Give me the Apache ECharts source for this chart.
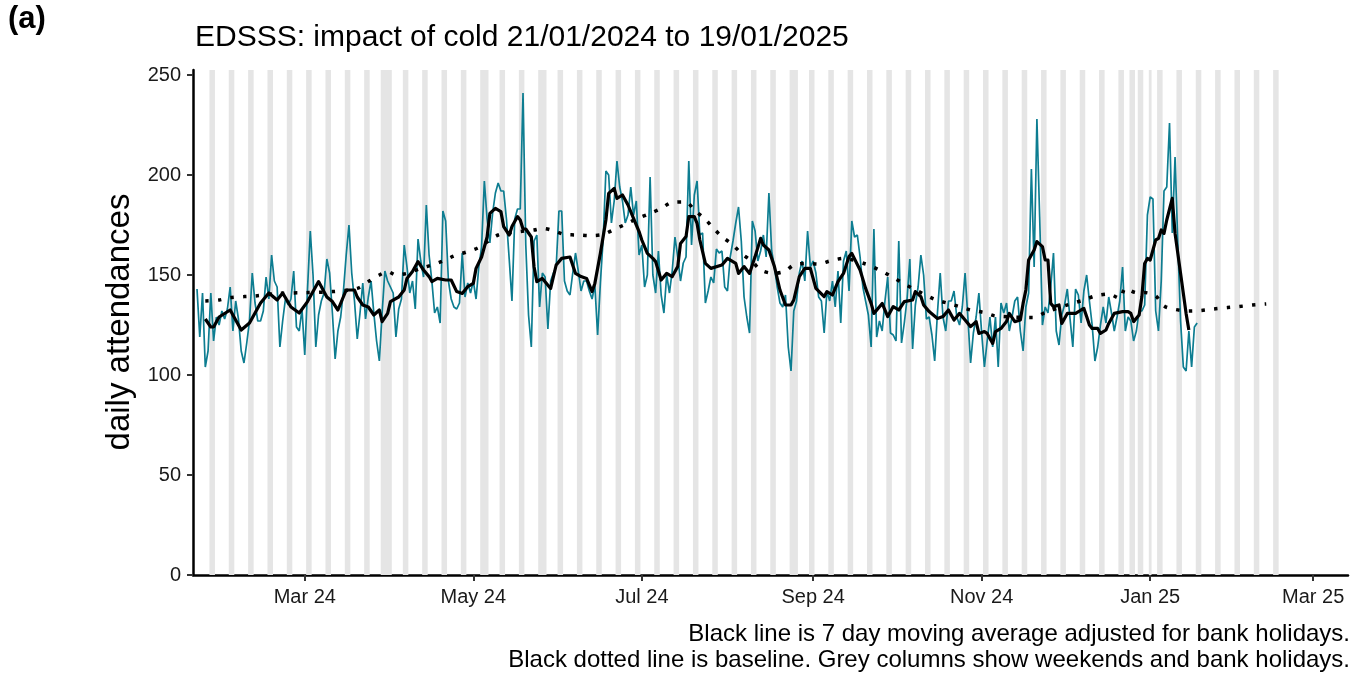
<!DOCTYPE html>
<html>
<head>
<meta charset="utf-8">
<script src="https://cdn.jsdelivr.net/npm/echarts@6/dist/echarts.min.js"></script>
<style>
  html, body { margin: 0; padding: 0; background: #fff; }
  #chart { width: 1368px; height: 675px; }
</style>
</head>
<body>
<div id="chart"></div>
<script>
// ---------------- DATA ----------------
// first plotted day (index 0)
const startYear = 2024, startMonth = 0, startDay = 22;

// daily attendances, one value per day from the start date
const dailyValues = [
  143,119,141,104,112,141,117,129,125,132,128,133,144,122,137,128,112,106,116,127,
  151,136,127,127,132,149,138,160,147,144,114,127,138,135,138,152,124,122,133,110,
  143,172,150,114,130,137,141,158,151,131,108,122,129,142,160,175,151,137,118,131,
  146,128,139,147,131,117,107,131,152,147,144,141,119,133,138,165,154,141,147,133,
  168,157,149,185,160,147,131,134,126,182,177,147,138,134,133,136,161,139,146,141,
  147,138,154,164,197,178,166,181,191,196,192,192,178,158,137,178,183,183,241,165,
  130,114,167,170,134,151,149,123,147,151,154,182,182,147,142,140,151,161,152,142,
  147,147,142,138,145,120,146,168,202,200,176,187,207,194,187,176,180,194,180,187,
  160,165,144,150,199,150,141,162,140,131,150,141,152,169,159,147,156,159,207,165,
  190,197,170,171,136,142,149,146,163,161,162,144,142,159,167,176,184,167,139,129,
  121,177,172,157,162,170,159,191,162,154,144,136,134,140,114,102,132,137,151,157,
  147,172,154,157,151,139,137,121,142,137,147,134,152,126,157,162,142,177,169,170,
  159,144,137,130,114,173,119,127,122,137,149,121,120,117,167,116,126,138,158,113,
  135,144,160,150,128,129,120,107,131,151,129,122,137,137,142,129,125,134,151,129,
  106,121,129,141,121,104,117,129,114,129,104,136,131,136,122,129,137,139,122,112,
  134,141,203,154,228,179,125,134,131,144,161,122,115,130,135,143,128,114,143,140,
  126,142,150,137,125,107,114,125,134,126,139,131,122,129,137,154,122,129,127,117,
  122,132,132,135,180,189,188,132,122,147,192,194,226,171,209,166,127,104,102,122,
  104,124,126
];

// 7 day moving average (day index, value)
const maDays = [3,5,6,8,12,16,19,23,26,29,31,34,37,40,44,47,49,51,54,57,58,60,62,64,66,67,69,70,73,75,76,78,80,82,84,85,87,90,92,94,96,98,100,101,103,105,106,108,110,111,113,114,116,117,118,119,121,122,123,125,128,130,132,135,137,139,141,143,144,146,148,149,151,152,154,156,158,160,161,163,165,166,168,170,172,174,175,177,178,180,181,182,184,186,190,192,195,196,198,200,202,204,205,207,209,211,213,215,216,218,220,222,224,227,228,230,232,234,236,237,240,242,244,245,248,250,252,254,256,259,260,262,263,265,268,270,272,274,276,278,280,282,283,285,286,288,289,291,293,294,296,298,299,300,301,303,304,306,307,308,309,310,312,313,315,318,320,321,322,323,324,326,327,329,330,332,335,337,338,339,341,342,343,344,345,347,348,349,350,351,353,354,356,358,359];
const maValues = [128,124,124,129,132.5,122.5,126,136,141,137.5,141,134,131,136.7,146.7,139,136.7,132.5,142.5,142.5,139,135,134,130,132.5,126.7,130.8,136.7,139,142.5,148.3,151.7,156.7,152.5,149.2,146.7,148.3,147.5,147.5,141.7,140.8,144.2,145.8,153.3,159,169,180.8,183.3,181.7,174.2,170,174.2,179.2,177.5,173,173,169,154,146.7,148.3,143.3,155,158.3,159,150.8,149.2,148.3,141.7,145.8,160.8,177.5,190.8,193.3,188.3,190,185,178.3,171.7,167.5,160.8,158.3,156.7,147.5,150.8,149.2,154.2,165.8,169.2,179.2,179.2,175.8,167.5,155.8,153.3,155,158.3,155.8,150.8,154.2,150.8,159.2,168.3,165,162.5,154.2,142.5,135,135,137.5,149.2,153.3,153.3,143.3,139.2,141.7,140,146.7,150.8,159.2,160.8,152.5,143.3,135.8,130.8,135.8,129.2,134.2,132.5,136.7,137.5,141.7,139.2,135,131.7,128.3,129.2,132.5,127.5,130.8,127.5,124.2,126.7,120.8,121.7,120.8,115.8,121.7,123.3,126.7,130.8,126.7,127.5,135.8,142.5,157.5,162.5,166.7,164.2,157.5,157.5,135.8,134.2,135,125.8,130.8,130.8,132.5,133.3,129.2,125,123.3,123.3,120.8,122.5,125.8,130.8,131.7,131.7,130.8,126.7,130,139.2,155.8,158.3,157.5,167.5,168.3,172.5,170.8,177.5,188.3,170.8,150.8,130.8,122.5];

// baseline (day index, value)
const baseDays = [3,8,12,17,21,30,40,49,58,62,66,69,72,76,81,85,89,93,98,102,109,117,122,125,129,133,138,142,147,151,155,159,164,168,172,177,180,184,187,190,194,197,201,204,209,213,216,221,225,229,234,242,247,251,255,259,263,267,272,276,280,285,289,303,307,316,321,325,330,334,336,340,343,347,350,354,359,363,368,373,377,382,387];
const baseValues = [137,137.5,138.7,139.2,139.5,140.8,141.2,141.7,143.3,146.7,150,151.7,150,150.8,153.3,155,157,159.5,161.7,163.8,170,171.7,172.5,173.3,172.2,170.3,170,169.7,170.3,172.8,175.3,178,180.8,183.3,186.3,186.5,182.5,177.8,173.3,169.2,165,160.8,156.7,152.5,150.8,152,155,155.8,155.5,157,158.3,155.5,152.5,149.5,146.3,143.3,140.5,137.8,135.8,134.2,132.5,131.2,129.5,128.8,131.2,135.5,137.5,139.5,140.5,138.3,143.3,141.2,141.2,139.5,134.5,132.8,132,132.2,133,133.7,134.2,135,135.5];

// shaded days: weekends in this window plus bank holidays
const shadeFrom = '2024-01-22', shadeTo = '2025-02-16';
const bankHolidays = ['2024-03-29','2024-04-01','2024-05-06','2024-05-27','2024-08-26','2024-12-25','2024-12-26','2025-01-01'];

const xTickDates = ['2024-03-01','2024-05-01','2024-07-01','2024-09-01','2024-11-01','2025-01-01','2025-03-01'];
const yTicks = [0,50,100,150,200,250];

const titleText = 'EDSSS: impact of cold 21/01/2024 to 19/01/2025';
const yAxisTitle = 'daily attendances';
const panelTag = '(a)';
const noteLines = ['Black line is 7 day moving average adjusted for bank holidays.',
                   'Black dotted line is baseline. Grey columns show weekends and bank holidays.'];

// ---------------- BUILD ----------------
const DAY = 86400000;
function dayTs(d) { return new Date(startYear, startMonth, startDay + d).getTime(); }
function isoTs(s) { const p = s.split('-').map(Number); return new Date(p[0], p[1]-1, p[2]).getTime(); }
const monthNames = ['Jan','Feb','Mar','Apr','May','Jun','Jul','Aug','Sep','Oct','Nov','Dec'];

const tealData = dailyValues.map((v, i) => [dayTs(i), v]);
const maData = maDays.map((d, i) => [dayTs(d), maValues[i]]);
const baseData = baseDays.map((d, i) => [dayTs(d), baseValues[i]]);

// shaded day list
const shadeSet = new Set();
(function () {
  const b = isoTs(shadeTo);
  for (let t = new Date(isoTs(shadeFrom)); t.getTime() <= b; t.setDate(t.getDate() + 1)) {
    const wd = t.getDay();
    if (wd === 0 || wd === 6) shadeSet.add(t.getTime());
  }
  bankHolidays.forEach(s => shadeSet.add(isoTs(s)));
})();
const shadeDays = Array.from(shadeSet).sort((a, b) => a - b);
const areas = [];
let runStart = null, prev = null;
shadeDays.forEach(t => {
  if (prev !== null && Math.round((t - prev) / DAY) === 1) { prev = t; return; }
  if (runStart !== null) areas.push([runStart, prev]);
  runStart = t; prev = t;
});
if (runStart !== null) areas.push([runStart, prev]);
const markAreaData = areas.map(r => [{ xAxis: r[0] - 0.5 * DAY }, { xAxis: r[1] + 0.5 * DAY }]);

const xTickTs = xTickDates.map(isoTs);

const chart = echarts.init(document.getElementById('chart'), null, { renderer: 'canvas' });
const FONT = '"Liberation Sans", Arial, Helvetica, sans-serif';

chart.setOption({
  animation: false,
  backgroundColor: '#ffffff',
  textStyle: { fontFamily: FONT },
  title: {
    text: titleText,
    left: 190, top: 18,
    textStyle: { fontFamily: FONT, fontSize: 30, fontWeight: 'normal', color: '#000' }
  },
  grid: { left: 193, right: 20, top: 70, bottom: 100, containLabel: false },
  xAxis: {
    type: 'value',
    min: dayTs(0) - 1.45 * DAY,
    max: dayTs(0) + 416.6 * DAY,
    splitLine: { show: false },
    axisLine: { show: true, onZero: false, lineStyle: { color: '#000', width: 2.5 } },
    axisTick: { show: true, length: 6, lineStyle: { color: '#333', width: 2 }, customValues: xTickTs },
    axisLabel: {
      customValues: xTickTs,
      margin: 12,
      fontSize: 20, color: '#1a1a1a', fontFamily: FONT,
      formatter: function (v) { const d = new Date(v); return monthNames[d.getMonth()] + ' ' + String(d.getFullYear()).slice(2); }
    }
  },
  yAxis: {
    type: 'value',
    min: 0, max: 252.5,
    splitLine: { show: false },
    axisLine: { show: true, lineStyle: { color: '#000', width: 2.5 } },
    axisTick: { show: true, length: 6, lineStyle: { color: '#333', width: 2 }, customValues: yTicks },
    axisLabel: { customValues: yTicks, margin: 12, fontSize: 20, color: '#1a1a1a', fontFamily: FONT }
  },
  series: [
    {
      name: 'shade', type: 'line', data: [], z: 1, silent: true,
      markArea: { silent: true, itemStyle: { color: '#e5e5e5' }, data: markAreaData }
    },
    {
      name: 'daily', type: 'line', data: tealData, z: 2, showSymbol: false, symbol: 'none',
      lineStyle: { color: '#0d7d91', width: 1.7 }
    },
    {
      name: 'baseline', type: 'line', data: baseData, z: 3, showSymbol: false, symbol: 'none', smooth: 0.3,
      lineStyle: { color: '#000', width: 3.5, type: [3.5, 9.2], cap: 'butt' }
    },
    {
      name: 'ma', type: 'line', data: maData, z: 4, showSymbol: false, symbol: 'none',
      lineStyle: { color: '#000', width: 3.2, join: 'round' }
    }
  ],
  graphic: [
    { type: 'text', left: 8, top: 4, style: { text: panelTag, font: 'bold 31px ' + FONT, fill: '#000' } },
    { type: 'text', x: 120, y: 322, rotation: Math.PI / 2,
      style: { text: yAxisTitle, font: '33px ' + FONT, fill: '#000', textAlign: 'center', textVerticalAlign: 'middle' } },
    { type: 'text', x: 1350, y: 634,
      style: { text: noteLines[0], font: '24px ' + FONT, fill: '#000', textAlign: 'right', textVerticalAlign: 'middle' } },
    { type: 'text', x: 1350, y: 660,
      style: { text: noteLines[1], font: '24px ' + FONT, fill: '#000', textAlign: 'right', textVerticalAlign: 'middle' } }
  ]
});
</script>
</body>
</html>
